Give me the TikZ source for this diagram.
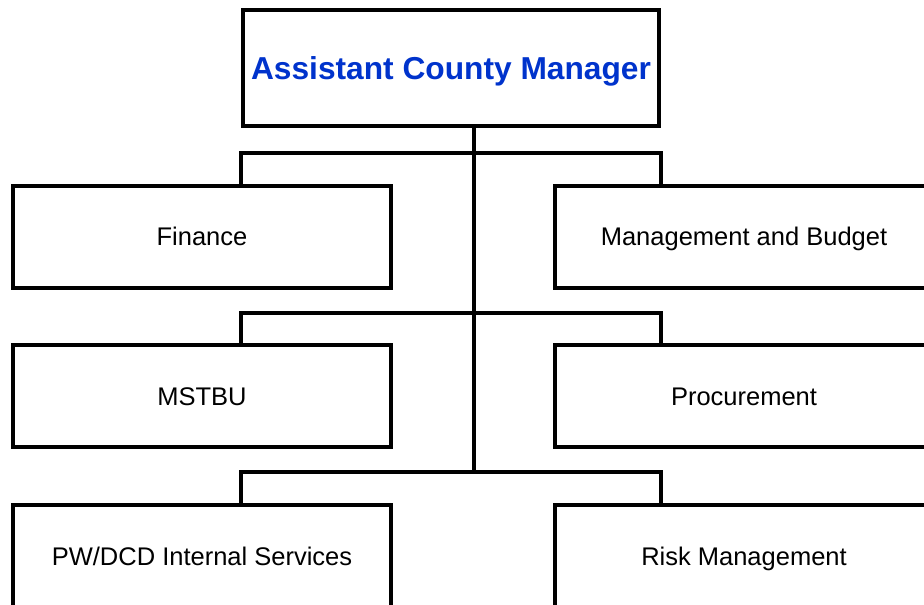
\documentclass[tikz,border=0pt]{standalone}
\usepackage{fontspec}
\setmainfont{Liberation Sans}
\definecolor{acmblue}{RGB}{0,51,204}

\begin{document}
\begin{tikzpicture}[x=1pt, y=-1pt,
    unit/.style={draw, rectangle, line width=4pt, minimum width=378pt, minimum height=102pt, inner sep=0pt, text height=18.3pt, text depth=0pt, font=\fontsize{25.5}{30}\selectfont},
    link/.style={line width=4pt}]
    \useasboundingbox (0,0) rectangle (924,605);
    \clip (0,0) rectangle (924,605);

    % Head
    \node[unit, minimum width=416pt, minimum height=116pt, text height=22.7pt, text=acmblue, font=\fontsize{31.7}{38}\selectfont\bfseries] (acm) at (451,68) {Assistant County Manager};

    % Left column
    \node[unit] (finance) at (202,236.5) {Finance};
    \node[unit] (mstbu) at (202,396) {MSTBU};
    \node[unit] (pwdcd) at (202,556) {PW/DCD Internal Services};

    % Right column
    \node[unit] (omb) at (744,236.5) {Management and Budget};
    \node[unit] (procure) at (744,396) {Procurement};
    \node[unit] (risk) at (744,556) {Risk Management};

    % Buses
    \coordinate (bus-1) at (474,153);
    \coordinate (bus-2) at (474,313);
    \coordinate (bus-3) at (474,472);

    \draw[link] (acm.south -| bus-1) -- (bus-3);
    \draw[link] (finance.north -| acm.west) |- (bus-1) -| (omb.north -| acm.east);
    \draw[link] (mstbu.north -| acm.west) |- (bus-2) -| (procure.north -| acm.east);
    \draw[link] (pwdcd.north -| acm.west) |- (bus-3) -| (risk.north -| acm.east);

\end{tikzpicture}
\end{document}
